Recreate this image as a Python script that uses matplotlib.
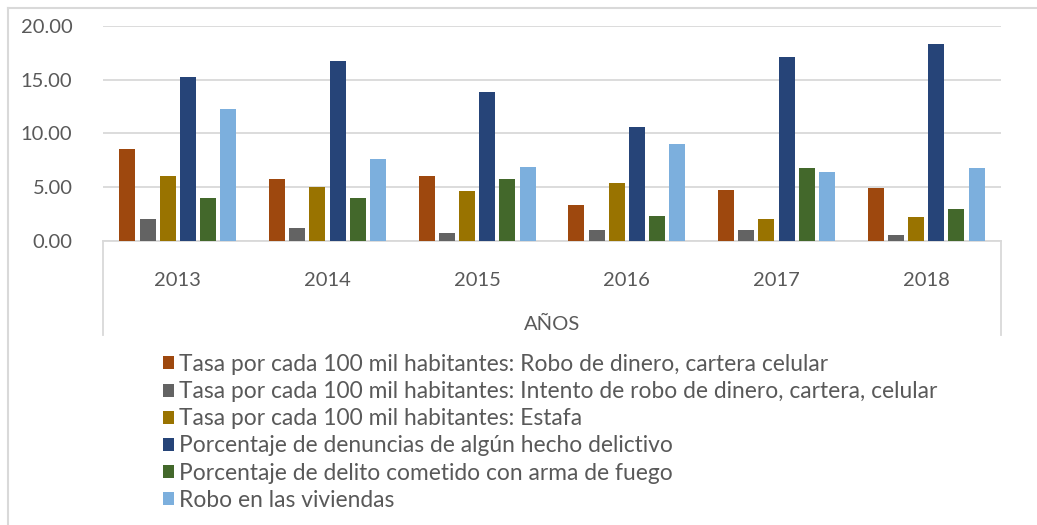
import matplotlib
matplotlib.use("Agg")
import matplotlib.pyplot as plt
from matplotlib.lines import Line2D
import numpy as np

plt.rcParams['font.family'] = ['Lato', 'DejaVu Sans']

# data
years = ["2013", "2014", "2015", "2016", "2017", "2018"]
robo_dinero = [8.5, 5.8, 6.0, 3.3, 4.7, 4.9]
intento_robo = [2.0, 1.2, 0.7, 1.0, 1.0, 0.6]
estafa = [6.0, 5.0, 4.6, 5.4, 2.0, 2.2]
denuncias = [15.2, 16.7, 13.8, 10.6, 17.1, 18.3]
arma_fuego = [4.0, 4.0, 5.8, 2.3, 6.8, 3.0]
robo_viviendas = [12.3, 7.6, 6.9, 9.0, 6.4, 6.8]

labels = [
    "Tasa por cada 100 mil habitantes: Robo de dinero, cartera celular",
    "Tasa por cada 100 mil habitantes: Intento de robo de dinero, cartera, celular",
    "Tasa por cada 100 mil habitantes: Estafa",
    "Porcentaje de denuncias de algún hecho delictivo",
    "Porcentaje de delito cometido con arma de fuego",
    "Robo en las viviendas",
]
colors = ["#9E480E", "#636363", "#997300", "#264478", "#43682B", "#7CAFDD"]
series = [robo_dinero, intento_robo, estafa, denuncias, arma_fuego, robo_viviendas]

txt = "#595959"
grid = "#D9D9D9"

fig = plt.figure(figsize=(10.37, 5.25), dpi=100)
ax = fig.add_axes([103 / 1037, 284 / 525, 898 / 1037, 215.3 / 525])

x = np.arange(len(years))
pitch = 0.135
width = 0.107
handles = []
for i, (vals, c, lab) in enumerate(zip(series, colors, labels)):
    b = ax.bar(x + (i - 2.5) * pitch, vals, width, color=c, label=lab, zorder=3)
    handles.append(b)

ax.set_xlim(-0.5, len(years) - 0.5)
ax.set_ylim(0, 20)
ax.set_yticks([0, 5, 10, 15, 20])
ax.set_yticklabels([f"{v:.2f}" for v in [0, 5, 10, 15, 20]])
ax.set_xticks(x)
ax.set_xticklabels(years)
ax.tick_params(axis='both', length=0, labelsize=14.5, colors=txt)
ax.tick_params(axis='y', pad=22)
ax.tick_params(axis='x', pad=22)
ax.yaxis.grid(True, color=grid, linewidth=1.3, zorder=0)
for s in ["top", "right", "left"]:
    ax.spines[s].set_visible(False)
ax.spines["bottom"].set_color(grid)
ax.spines["bottom"].set_linewidth(1.3)

ax.set_xlabel("AÑOS", fontsize=14.5, color=txt, labelpad=20)

# category axis brackets
for xa in (0, 1):
    ax.add_line(Line2D([xa, xa], [0, -0.437], transform=ax.transAxes,
                       color=grid, linewidth=1.3, clip_on=False))

# chart border (top and left)
fig.add_artist(Line2D([8 / 1037, 1], [1 - 8 / 525, 1 - 8 / 525],
                      transform=fig.transFigure, color=grid, linewidth=1.5))
fig.add_artist(Line2D([8 / 1037, 8 / 1037], [0, 1 - 8 / 525],
                      transform=fig.transFigure, color=grid, linewidth=1.5))

leg = fig.legend(handles=handles, loc="upper left",
                 bbox_to_anchor=(163 / 1037, 1 - 354 / 525),
                 frameon=False, fontsize=16.4, labelcolor=txt,
                 handlelength=0.5, handleheight=0.5, handletextpad=0.22,
                 labelspacing=0.27, borderpad=0, borderaxespad=0)

fig.savefig("out.png", dpi=100)
